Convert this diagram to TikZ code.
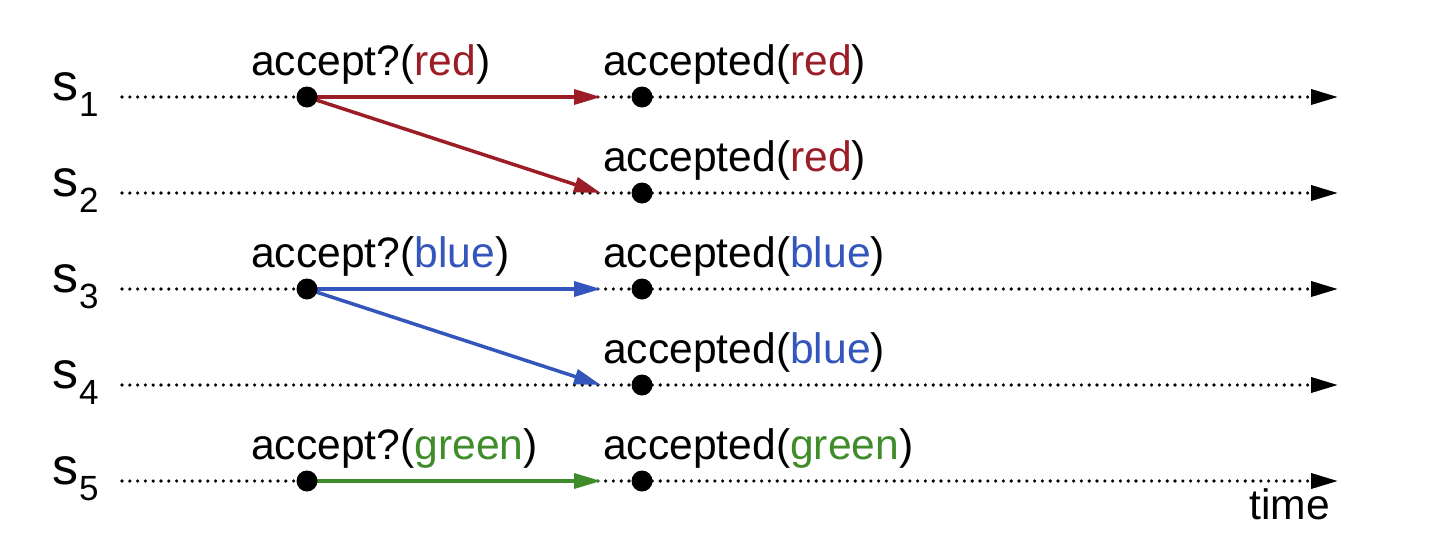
\documentclass[tikz,border=0pt]{standalone}
\usepackage{fontspec}
\setmainfont{Liberation Sans}
\usetikzlibrary{arrows.meta}
\definecolor{cred}{RGB}{155,30,38}
\definecolor{cblue}{RGB}{52,86,188}
\definecolor{cgreen}{RGB}{62,140,42}
\tikzset{
  timeline/.style={line width=3.6pt, line cap=round, dash pattern=on 0pt off 7.8pt,
    -{Triangle[length=27pt,width=15pt]}},
  msg/.style={line width=3.5pt, -{Triangle[length=27pt,width=15pt]}},
  event/.style={circle, fill=black, minimum size=21pt, inner sep=0pt},
  lbl/.style={anchor=base west, inner sep=0pt, font=\fontsize{42.6}{50}\selectfont},
  proc/.style={anchor=base west, inner sep=0pt, font=\fontsize{52}{60}\selectfont},
}
\newcommand{\procname}[1]{s\kern1pt\raisebox{-16pt}{\fontsize{35}{40}\selectfont #1}}
\begin{document}
\begin{tikzpicture}[x=1pt,y=-1pt]
\useasboundingbox (0,0) rectangle (1434,546);
% coordinates
\foreach \i/\y in {1/97,2/193,3/289,4/385,5/481}{
  \coordinate (b\i) at (122,\y);
  \coordinate (e\i) at (1338,\y);
  \coordinate (t\i) at (601,\y);
  \coordinate (p\i) at (307,\y);
  \coordinate (q\i) at (642,\y);
}
% timelines
\foreach \i in {1,...,5}{ \draw[timeline] (b\i) -- (e\i); }
% process names
\node[proc] (n1) at (52,100) {\procname{1}};
\node[proc] (n2) at (52,196) {\procname{2}};
\node[proc] (n3) at (52,292) {\procname{3}};
\node[proc] (n4) at (52,388) {\procname{4}};
\node[proc] (n5) at (52,484) {\procname{5}};
% messages
\draw[msg, cred] (p1) -- (t1);
\draw[msg, cred] (p1) -- (t2);
\draw[msg, cblue] (p3) -- (t3);
\draw[msg, cblue] (p3) -- (t4);
\draw[msg, cgreen] (p5) -- (t5);
% events
\node[event] (s1) at (p1) {};
\node[event] (s3) at (p3) {};
\node[event] (s5) at (p5) {};
\foreach \i in {1,...,5}{ \node[event] (r\i) at (q\i) {}; }
% labels
\node[lbl] (la1) at (251,75) {accept?(\textcolor{cred}{red})};
\node[lbl] (la3) at (251,267) {accept?(\textcolor{cblue}{blue})};
\node[lbl] (la5) at (251,459) {accept?(\textcolor{cgreen}{green})};
\node[lbl] (lb1) at (603,75) {accepted(\textcolor{cred}{red})};
\node[lbl] (lb2) at (603,171) {accepted(\textcolor{cred}{red})};
\node[lbl] (lb3) at (603,267) {accepted(\textcolor{cblue}{blue})};
\node[lbl] (lb4) at (603,363) {accepted(\textcolor{cblue}{blue})};
\node[lbl] (lb5) at (603,459) {accepted(\textcolor{cgreen}{green})};
\node[lbl] (time) at (1249,519) {time};
\end{tikzpicture}
\end{document}
